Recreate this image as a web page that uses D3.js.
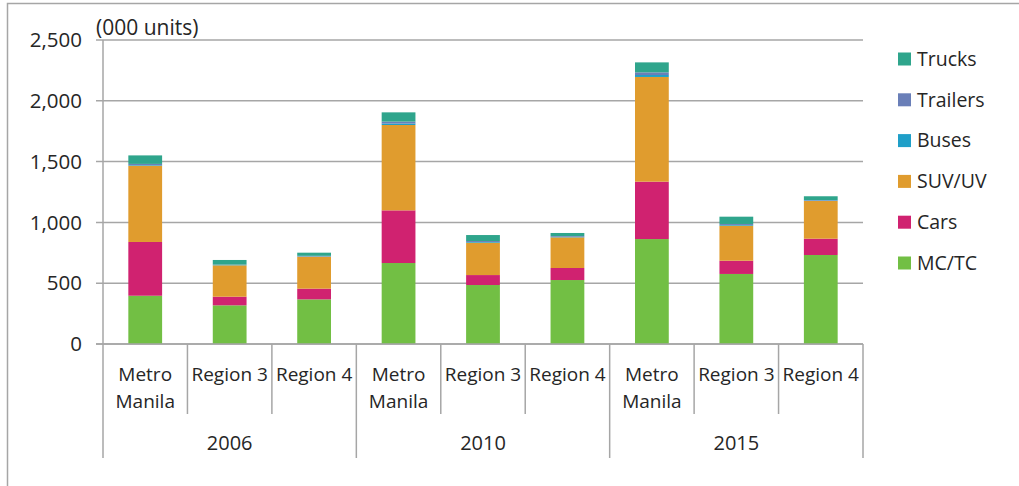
<!DOCTYPE html>
<html>
<head>
<meta charset="utf-8">
<script src="https://cdn.jsdelivr.net/npm/d3@7"></script>
<style>
	body { margin: 0; background: #fff; }
	svg text { font-family: "Open Sans", sans-serif; fill: #262626; }
</style>
</head>
<body>
<div id="chart"></div>
<script>
// Data, thousand units
const years = ["2006", "2010", "2015"];
const regions = ["Metro Manila", "Region 3", "Region 4"];
const series = ["MC/TC", "Cars", "SUV/UV", "Buses", "Trailers", "Trucks"];
const mcTc =     [397, 318, 367, 666, 485, 526, 863, 576, 732];
const cars =     [442,  71,  88, 433,  82,  99, 472, 109, 134];
const suvUv =    [627, 258, 263, 702, 266, 252, 861, 288, 310];
const buses =    [  5,   3,   3,  12,   6,   5,  16,   6,   4];
const trailers = [ 10,   3,   4,  16,   8,   6,  22,   8,   4];
const trucks =   [ 70,  38,  26,  76,  49,  25,  82,  60,  31];
const yTicks = [0, 500, 1000, 1500, 2000, 2500];

const colors = {
	"MC/TC":    "#72bf44",
	"Cars":     "#d02270",
	"SUV/UV":   "#e09c2e",
	"Buses":    "#1f9fc8",
	"Trailers": "#6a7fb8",
	"Trucks":   "#2fa58c"
};

const width = 1019, height = 486;
const plotLeft = 103, plotRight = 863, plotTop = 40, plotBottom = 344;

let rows = [];
years.forEach((yr, i) => {
	regions.forEach((rg, j) => {
		let k = i * regions.length + j;
		rows.push({
			key: yr + "|" + rg, year: yr, region: rg,
			"MC/TC": mcTc[k], "Cars": cars[k], "SUV/UV": suvUv[k],
			"Buses": buses[k], "Trailers": trailers[k], "Trucks": trucks[k]
		});
	});
});

const svg = d3.select("#chart").append("svg")
	.attr("width", width)
	.attr("height", height);

// outer frame
svg.append("rect")
	.attr("x", 7.5).attr("y", 3.5)
	.attr("width", width + 20).attr("height", height + 20)
	.attr("fill", "none")
	.attr("stroke", "#a6a6a6")
	.attr("stroke-width", 1.5);

const x = d3.scaleBand()
	.domain(rows.map(d => d.key))
	.range([plotLeft, plotRight])
	.paddingInner(0.6)
	.paddingOuter(0.3);

const y = d3.scaleLinear()
	.domain([0, 2500])
	.range([plotBottom, plotTop]);

const step = x.step();

// gridlines
svg.append("g")
	.selectAll("line")
	.data(yTicks)
	.enter().append("line")
	.attr("x1", plotLeft - 7).attr("x2", plotRight)
	.attr("y1", d => y(d)).attr("y2", d => y(d))
	.attr("stroke", "#a6a6a6")
	.attr("stroke-width", 1.5);

// y axis labels
svg.append("g")
	.selectAll("text")
	.data(yTicks)
	.enter().append("text")
	.attr("x", 82)
	.attr("y", d => y(d))
	.attr("dy", "0.35em")
	.attr("text-anchor", "end")
	.style("font-size", "20.5px")
	.text(d => d3.format(",")(d));

svg.append("line")
	.attr("x1", plotLeft).attr("x2", plotLeft)
	.attr("y1", plotTop).attr("y2", plotBottom)
	.attr("stroke", "#a6a6a6")
	.attr("stroke-width", 1.5);

svg.append("text")
	.attr("x", 96).attr("y", 28)
	.attr("dy", "0.35em")
	.style("font-size", "21px")
	.text("(000 units)");

// stacked bars
const stack = d3.stack().keys(series);
const layers = stack(rows);

svg.append("g")
	.selectAll("g")
	.data(layers)
	.enter().append("g")
	.attr("fill", d => colors[d.key])
	.selectAll("rect")
	.data(d => d)
	.enter().append("rect")
	.attr("x", d => x(d.data.key))
	.attr("width", x.bandwidth())
	.attr("y", d => y(d[1]))
	.attr("height", d => y(d[0]) - y(d[1]));

// category axis separators
const cats = svg.append("g");
rows.forEach((d, i) => {
	let x0 = x(d.key) - (step - x.bandwidth()) / 2;
	let isGroupEdge = i % regions.length === 0;
	cats.append("line")
		.attr("x1", x0).attr("x2", x0)
		.attr("y1", plotBottom).attr("y2", isGroupEdge ? 458 : 414)
		.attr("stroke", "#a6a6a6")
		.attr("stroke-width", 1.5);

	let cx = x(d.key) + x.bandwidth() / 2;
	let lines = d.region === "Metro Manila" ? ["Metro", "Manila"] : [d.region];
	lines.forEach((t, li) => {
		cats.append("text")
			.attr("x", cx)
			.attr("y", 374 + li * 27)
			.attr("dy", "0.35em")
			.attr("text-anchor", "middle")
			.style("font-size", "19px")
			.text(t);
	});
});
cats.append("line")
	.attr("x1", plotRight).attr("x2", plotRight)
	.attr("y1", plotBottom).attr("y2", 458)
	.attr("stroke", "#a6a6a6")
	.attr("stroke-width", 1.5);

// year labels
years.forEach((yr, i) => {
	let first = x(yr + "|" + regions[0]);
	let last = x(yr + "|" + regions[regions.length - 1]);
	cats.append("text")
		.attr("x", (first + last + x.bandwidth()) / 2)
		.attr("y", 443)
		.attr("dy", "0.35em")
		.attr("text-anchor", "middle")
		.style("font-size", "20px")
		.text(yr);
});

// baseline
svg.append("line")
	.attr("x1", plotLeft - 7).attr("x2", plotRight)
	.attr("y1", plotBottom).attr("y2", plotBottom)
	.attr("stroke", "#a6a6a6")
	.attr("stroke-width", 1.5);

// legend, top item is Trucks
const legend = svg.append("g")
	.selectAll("g")
	.data(series.slice().reverse())
	.enter().append("g")
	.attr("transform", (d, i) => "translate(898," + (59 + i * 40.8) + ")");

legend.append("rect")
	.attr("x", 0).attr("y", -6.5)
	.attr("width", 13).attr("height", 13)
	.attr("fill", d => colors[d]);

legend.append("text")
	.attr("x", 19)
	.attr("dy", "0.35em")
	.style("font-size", "19.5px")
	.text(d => d);
</script>
</body>
</html>
